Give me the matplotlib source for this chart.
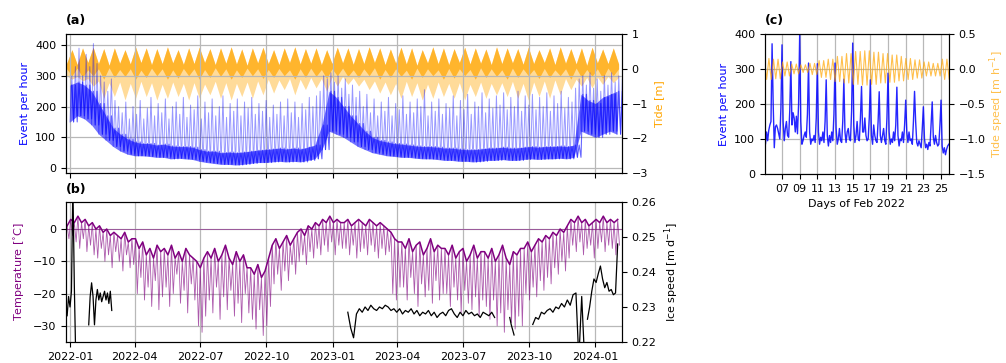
import numpy as np
import pandas as pd
import matplotlib
matplotlib.use("Agg")
import matplotlib.pyplot as plt
import matplotlib.dates as mdates

# ---------------- (a) seismic event rate, 10-day grid from 2022-01-01
EV_START = "2022-01-01"
# lower / upper edge of the dense band [events per hour]
ev_lo = [150, 170, 160, 140, 110, 90, 70, 55, 45, 40,
         40, 38, 35, 35, 30, 32, 30, 28, 22, 18,
         15, 12, 12, 10, 12, 15, 18, 18, 20, 22,
         20, 22, 20, 25, 30, 60, 120, 110, 100, 85,
         70, 60, 50, 45, 40, 38, 35, 35, 32, 30,
         30, 28, 25, 25, 22, 22, 20, 22, 25, 25,
         28, 25, 25, 28, 30, 28, 30, 30, 32, 30,
         35, 120, 110, 100, 110, 120, 110]
ev_hi = [270, 280, 270, 250, 210, 170, 130, 110, 95, 85,
         80, 80, 75, 78, 72, 70, 70, 68, 60, 55,
         55, 50, 52, 50, 52, 55, 58, 60, 62, 65,
         62, 65, 62, 68, 75, 140, 250, 230, 200, 170,
         145, 120, 100, 90, 85, 80, 78, 75, 72, 70,
         70, 68, 65, 65, 62, 60, 60, 62, 65, 65,
         68, 65, 65, 68, 70, 68, 70, 70, 72, 70,
         75, 240, 220, 210, 230, 240, 250]
# tops of the spikes, 5-day grid from 2022-01-01
ev_peak = [300, 330, 390, 300, 370, 330, 405, 340, 300, 280,
           250, 290, 220, 200, 180, 215, 160, 200, 175, 220,
           160, 195, 230, 170, 210, 180, 225, 160, 200, 215,
           175, 230, 165, 205, 190, 235, 160, 215, 180, 225,
           170, 200, 235, 165, 210, 185, 225, 170, 215, 195,
           230, 175, 210, 185, 220, 165, 205, 175, 215, 170,
           225, 180, 215, 165, 210, 190, 230, 200, 235, 250,
           300, 290, 310, 280, 300, 260, 290, 240, 270, 230,
           250, 200, 240, 180, 225, 170, 215, 185, 230, 170,
           210, 190, 235, 175, 215, 180, 225, 200, 255, 170,
           215, 185, 225, 175, 210, 195, 235, 170, 220, 190,
           240, 175, 215, 200, 245, 180, 225, 195, 235, 205,
           245, 190, 230, 200, 250, 185, 235, 205, 240, 190,
           230, 200, 245, 185, 235, 210, 250, 195, 230, 215,
           260, 290, 300, 270, 310, 260, 290, 250, 300, 270,
           310, 280, 300, 290]

# ---------------- (a) tide, alternating neap / spring every ~7.4 days
TIDE_START = "2021-12-27 06:00"
neap_hi = [0.15, 0.12, 0.18, 0.15, 0.10, 0.16, 0.14, 0.18, 0.12, 0.15,
           0.17, 0.13, 0.15, 0.18, 0.12, 0.16, 0.14, 0.10, 0.17, 0.15,
           0.12, 0.18, 0.14, 0.16, 0.12, 0.15, 0.17, 0.13, 0.15, 0.18,
           0.12, 0.16, 0.14, 0.10, 0.17, 0.15, 0.12, 0.18, 0.14, 0.16,
           0.12, 0.15, 0.17, 0.13, 0.15, 0.18, 0.12, 0.16, 0.14, 0.10,
           0.17, 0.15, 0.14]
neap_dark_lo = [0.0, 0.02, -0.03, 0.0, 0.03, -0.02, 0.0, -0.04, 0.02, 0.0,
                -0.03, 0.01, 0.0, -0.02, 0.03, 0.0, -0.03, 0.02, 0.0, -0.02,
                0.01, -0.03, 0.0, 0.02, -0.02, 0.0, 0.02, -0.03, 0.0, 0.03,
                -0.02, 0.0, -0.04, 0.02, 0.0, -0.03, 0.01, 0.0, -0.02, 0.03,
                0.0, -0.03, 0.02, 0.0, -0.02, 0.01, -0.03, 0.0, 0.02, -0.02,
                0.0, 0.02, 0.0]
neap_lo = [-0.2, -0.22, -0.28, -0.35, -0.4, -0.38, -0.42, -0.36, -0.4, -0.45,
           -0.38, -0.42, -0.4, -0.44, -0.36, -0.4, -0.42, -0.38, -0.35, -0.3,
           -0.32, -0.28, -0.3, -0.25, -0.28, -0.24, -0.22, -0.26, -0.3, -0.35,
           -0.38, -0.42, -0.36, -0.4, -0.44, -0.38, -0.42, -0.4, -0.45, -0.38,
           -0.42, -0.4, -0.36, -0.42, -0.38, -0.35, -0.32, -0.28, -0.3, -0.25,
           -0.24, -0.22, -0.25]
spring_hi = [0.55, 0.60, 0.62, 0.58, 0.60, 0.55, 0.62, 0.60, 0.58, 0.63,
             0.55, 0.60, 0.62, 0.58, 0.60, 0.63, 0.57, 0.60, 0.62, 0.55,
             0.60, 0.63, 0.58, 0.60, 0.55, 0.62, 0.60, 0.58, 0.63, 0.60,
             0.57, 0.62, 0.60, 0.55, 0.63, 0.60, 0.58, 0.62, 0.60, 0.57,
             0.63, 0.60, 0.58, 0.62, 0.55, 0.60, 0.63, 0.58, 0.60, 0.62,
             0.57, 0.60]
spring_dark_lo = [-0.2, -0.25, -0.2, -0.3, -0.25, -0.22, -0.3, -0.25, -0.2, -0.3,
                  -0.27, -0.2, -0.3, -0.25, -0.22, -0.3, -0.25, -0.2, -0.28, -0.25,
                  -0.2, -0.3, -0.25, -0.22, -0.28, -0.2,
                  -0.22, -0.25, -0.2, -0.3, -0.25, -0.22, -0.3, -0.25, -0.2, -0.3,
                  -0.27, -0.2, -0.3, -0.25, -0.22, -0.3, -0.25, -0.2, -0.28, -0.25,
                  -0.2, -0.3, -0.25, -0.22, -0.28, -0.2]
spring_lo = [-0.3, -0.35, -0.5, -0.85, -0.8, -0.9, -0.85,
             -0.8, -0.9, -0.85, -0.8, -0.9, -0.85,
             -0.75, -0.85, -0.9, -0.8, -0.85, -0.75,
             -0.7, -0.6, -0.75, -0.6, -0.55, -0.65, -0.5,
             -0.45, -0.5, -0.6, -0.7,
             -0.75, -0.85, -0.8, -0.9, -0.85, -0.8,
             -0.85, -0.9, -0.8, -0.85, -0.75, -0.8,
             -0.85, -0.9, -0.8, -0.85, -0.75,
             -0.6, -0.5, -0.55, -0.45, -0.4]

# ---------------- (b) air temperature, 5-day grid: warm / cold values
TEMP_START = "2021-12-28"
temp_hi = [1, 3, 2, 4, 2, 3, 1, 2,
           0, 1, -1, 0, -2, -1,
           -2, -3, -1, -4, -3,
           -3, -6, -4, -8, -6, -9, -5, -7,
           -6, -8, -5, -9, -7, -10, -6, -8, -9,
           -10, -12, -9,
           -7, -9, -6, -10, -8, -5, -9, -11, -7, -10, -8, -12,
           -12, -14, -11, -15, -13, -9,
           -5, -3, -6, -4, -2, -5, -3,
           -1, 0, -2, 1, 0, 2, 1,
           3, 2, 4, 2, 3, 2,
           2, 3, 1, 2, 3, 2, 1, 3, 2, 1, 2, 1, 0,
           -1, -3, -4,
           -4, -6, -3, -7, -5, -4, -8, -6, -3, -7, -5, -6,
           -6, -8, -5, -9, -7, -6, -10, -8, -5, -9, -7,
           -7, -9, -6, -10, -8, -5, -9, -11, -7, -8, -6,
           -6, -4, -7, -5, -3, -4,
           -2, -3, -1, -2, 0, -1, 1,
           3, 2, 4, 2, 3, 1, 2, 3, 2, 4, 2, 3, 2, 3]
temp_lo = [-3, -2, -4, -6, -3, -7, -5, -8,
           -9, -6, -10, -8, -12, -7,
           -10, -13, -8, -12, -11,
           -20, -15, -22, -18, -24, -16, -25, -21,
           -18, -24, -20, -14, -23, -19, -26, -17, -22,
           -30, -32, -27,
           -22, -26, -18, -28, -21, -25, -19, -27, -23, -29, -20, -26,
           -28, -31, -25, -33, -30, -24,
           -17, -14, -19, -13, -16, -11, -14,
           -10, -8, -11, -7, -9, -6, -8,
           -5, -7, -4, -8, -5, -6,
           -6, -8, -5, -9, -7, -6, -8, -5, -7, -9, -6, -8, -7,
           -20, -22, -18,
           -18, -22, -15, -20, -24, -17, -21, -19, -23, -16, -22, -20,
           -20, -24, -18, -22, -26, -19, -23, -25, -21, -27, -22,
           -24, -28, -22, -30, -26, -32, -25, -29, -31, -27, -30,
           -20, -22, -18, -21, -16, -19,
           -15, -17, -12, -14, -10, -13, -9,
           -5, -7, -4, -8, -6, -5, -9, -6, -4, -7, -5, -6, -8, -5]

# ---------------- (b) ice speed [m/d], separate pieces (start, step, values)
ice_pieces = [
    ("2021-12-28", "2D", [0.2275, 0.2330, 0.2300, 0.2345, 0.2650, 0.2360, 0.2150]),
    ("2022-01-27", "2D", [0.2249, 0.2330, 0.2369, 0.2330, 0.2249, 0.2320, 0.2350,
                          0.2320, 0.2340, 0.2315, 0.2330, 0.2345, 0.2320, 0.2340,
                          0.2310, 0.2345, 0.2290]),
    ("2023-01-22", "4D", [0.2285, 0.2240, 0.2212, 0.2280, 0.2295, 0.2285, 0.2300,
                          0.2290, 0.2305, 0.2295, 0.2290, 0.2300, 0.2295, 0.2305,
                          0.2300, 0.2290, 0.2295, 0.2285, 0.2295, 0.2280, 0.2290,
                          0.2285, 0.2295, 0.2280, 0.2290, 0.2275, 0.2285, 0.2280,
                          0.2290, 0.2275, 0.2285, 0.2270, 0.2280, 0.2285, 0.2275,
                          0.2290, 0.2295, 0.2280, 0.2270, 0.2285, 0.2275, 0.2290,
                          0.2280, 0.2285, 0.2275, 0.2280, 0.2270, 0.2285, 0.2280,
                          0.2275, 0.2285, 0.2270]),
    ("2023-09-04", "2D", [0.2270, 0.2250, 0.2235, 0.2220]),
    ("2023-10-06", "4D", [0.2250, 0.2270, 0.2265, 0.2285, 0.2280, 0.2290, 0.2295,
                          0.2285, 0.2300, 0.2295, 0.2310, 0.2300, 0.2320, 0.2305,
                          0.2335, 0.2340, 0.2150, 0.2330, 0.2150]),
    ("2023-12-21", "3D", [0.2265, 0.2300, 0.2345, 0.2380, 0.2370, 0.2395, 0.2417,
                          0.2380, 0.2355, 0.2370, 0.2345, 0.2350, 0.2335, 0.2340,
                          0.2480]),
]

# ---------------- (c) Feb 2022 zoom: events per hour, 3-hourly from Feb 5 00:00
C_START = "2022-02-05"
c_events = [110, 85, 120, 95, 125, 140, 150, 372,
            200, 75, 135, 140, 130, 115, 100, 190,
            369, 150, 95, 130, 150, 110, 105, 180,
            321, 140, 175, 160, 120, 165, 115, 200,
            400, 150, 85, 95, 110, 120, 105, 170,
            317, 120, 85, 100, 95, 110, 90, 160,
            315, 120, 85, 105, 95, 120, 90, 150,
            269, 110, 80, 110, 90, 120, 95, 170,
            317, 130, 85, 100, 130, 95, 90, 150,
            271, 120, 90, 120, 130, 100, 95, 180,
            374, 140, 90, 110, 150, 100, 95, 160,
            250, 120, 120, 160, 110, 95, 100, 160,
            269, 110, 85, 140, 110, 95, 90, 150,
            235, 110, 90, 110, 130, 95, 85, 160,
            288, 120, 85, 100, 90, 120, 95, 140,
            248, 110, 80, 100, 95, 120, 90, 140,
            211, 120, 90, 120, 95, 100, 85, 150,
            236, 150, 90, 80, 95, 85, 75, 130,
            192, 100, 75, 85, 70, 90, 80, 140,
            206, 105, 85, 110, 90, 80, 85, 140,
            211, 80, 60, 75, 55, 70, 80, 85]
# tide speed daily flood / ebb extremes [m/h], Feb 5 .. Feb 25
c_speed_hi = [0.15, 0.14, 0.10, 0.07, 0.06, 0.08, 0.12, 0.14, 0.18, 0.22, 0.25,
              0.26, 0.24, 0.22, 0.20, 0.18, 0.15, 0.13, 0.10, 0.08, 0.14]
c_speed_lo = [-0.15, -0.14, -0.10, -0.07, -0.05, -0.08, -0.12, -0.15, -0.18, -0.20, -0.22,
              -0.23, -0.22, -0.20, -0.19, -0.17, -0.15, -0.13, -0.10, -0.10, -0.15]


def zigzag(start, step, first, second):
    """Alternate first[k] at t_k and second[k] at t_k + step/2."""
    t = pd.date_range(start, periods=len(first), freq=step)
    half = pd.Timedelta(step) / 2
    x = np.empty(2 * len(first), dtype="datetime64[ns]")
    y = np.empty(2 * len(first))
    x[0::2] = t.values
    x[1::2] = (t + half).values
    y[0::2] = first
    y[1::2] = second
    return x, y


plt.rcParams["font.family"] = "DejaVu Sans"
plt.rcParams["font.size"] = 8

fig = plt.figure(figsize=(10.06, 3.63), dpi=100)
ax_a = fig.add_axes([0.0656, 0.5234, 0.5527, 0.3829])
ax_b = fig.add_axes([0.0656, 0.0579, 0.5527, 0.3857])
ax_c = fig.add_axes([0.7604, 0.5207, 0.1829, 0.3857])

xlim = (pd.Timestamp("2021-12-26 10:00"), pd.Timestamp("2024-02-07"))
grid_kw = dict(color="0.72", lw=0.9)

# ---- (a) tide on the twin axis, drawn underneath the events
tide_t = pd.date_range(TIDE_START, periods=len(neap_hi) + len(spring_hi), freq="177h")
n = len(tide_t)
tide_hi = np.empty(n); tide_dark = np.empty(n); tide_lo = np.empty(n)
tide_hi[0::2], tide_hi[1::2] = neap_hi, spring_hi
tide_dark[0::2], tide_dark[1::2] = neap_dark_lo, spring_dark_lo
tide_lo[0::2], tide_lo[1::2] = neap_lo, spring_lo
ax_a2 = ax_a.twinx()
ax_a2.fill_between(tide_t, tide_lo, tide_hi, color="orange", alpha=0.4, lw=0)
ax_a2.fill_between(tide_t, tide_dark, tide_hi, color="orange", alpha=0.7, lw=0)
ax_a2.set_ylim(-3, 1)
ax_a2.set_yticks([-3, -2, -1, 0, 1])
ax_a2.set_ylabel("Tide [m]", color="orange")
ax_a.set_zorder(ax_a2.get_zorder() + 1)
ax_a.patch.set_visible(False)

ev_t = pd.date_range(EV_START, periods=len(ev_lo), freq="10D")
ax_a.fill_between(ev_t, ev_lo, ev_hi, color="blue", alpha=0.55, lw=0)
lo_rep = np.repeat(ev_lo, 2)[:len(ev_peak)]
hi_rep = np.repeat(ev_hi, 2)[:len(ev_peak)]
bx, by = zigzag("2022-01-03 12:00", "5D", hi_rep, lo_rep)
ax_a.plot(bx, by, color="blue", lw=0.8, alpha=0.6)
sx, sy = zigzag(EV_START, "5D", lo_rep, ev_peak)
ax_a.plot(sx, sy, color="blue", lw=0.7, alpha=0.4)
ax_a.set_ylim(-16, 436)
ax_a.set_yticks([0, 100, 200, 300, 400])
ax_a.set_ylabel("Event per hour", color="blue")
ax_a.grid(True, **grid_kw)
ax_a.set_axisbelow(True)

# ---- (b)
tx, ty = zigzag(TEMP_START, "5D", temp_hi, temp_lo)
ax_b.plot(tx, ty, color="purple", lw=0.6, alpha=0.65)
ax_b.plot(pd.date_range(TEMP_START, periods=len(temp_hi), freq="5D"), temp_hi,
          color="purple", lw=1.1)
ax_b.axhline(0, color="purple", lw=0.6, alpha=0.6)
ax_b.set_ylim(-35, 8.4)
ax_b.set_yticks([-30, -20, -10, 0])
ax_b.set_ylabel("Temperature [$^{\\circ}$C]", color="purple")
ax_b.grid(True, **grid_kw)
ax_b.set_axisbelow(True)

ax_b2 = ax_b.twinx()
for start, step, vals in ice_pieces:
    t = pd.date_range(start, periods=len(vals), freq=step)
    ax_b2.plot(t, vals, color="black", lw=0.9)
ax_b2.set_ylim(0.22, 0.26)
ax_b2.set_yticks([0.22, 0.23, 0.24, 0.25, 0.26])
ax_b2.set_ylabel("Ice speed [m d$^{-1}$]")

for ax in (ax_a, ax_b):
    ax.set_xlim(*xlim)
    ax.xaxis.set_major_locator(mdates.MonthLocator(bymonth=[1, 4, 7, 10]))
    ax.xaxis.set_major_formatter(mdates.DateFormatter("%Y-%m"))
ax_a.tick_params(axis="x", labelbottom=False)

# ---- (c)
c_t = pd.date_range(C_START, periods=len(c_events), freq="3h")
ax_c.plot(c_t, c_events, color="blue", lw=1.0, alpha=0.85)
ax_c.set_ylim(0, 400)
ax_c.set_yticks([0, 100, 200, 300, 400])
ax_c.set_ylabel("Event per hour", color="blue")
ax_c.set_xlim(pd.Timestamp("2022-02-05 01:40"), pd.Timestamp("2022-02-25 21:30"))
ax_c.xaxis.set_major_locator(mdates.DayLocator(bymonthday=range(7, 26, 2)))
ax_c.xaxis.set_major_formatter(mdates.DateFormatter("%d"))
ax_c.set_xlabel("Days of Feb 2022")
ax_c.grid(True, **grid_kw)
ax_c.set_axisbelow(True)

sp_t = pd.date_range(C_START, periods=2 * len(c_speed_hi) * 2, freq="372min")
day_idx = np.minimum((sp_t - pd.Timestamp(C_START)).days, len(c_speed_hi) - 1)
sp_v = np.where(np.arange(len(sp_t)) % 2 == 0,
                np.array(c_speed_hi)[day_idx], np.array(c_speed_lo)[day_idx])
ax_c2 = ax_c.twinx()
ax_c2.plot(sp_t, sp_v, color="orange", lw=0.8, alpha=0.7)
ax_c2.set_ylim(-1.5, 0.5)
ax_c2.set_yticks([-1.5, -1.0, -0.5, 0.0, 0.5])
ax_c2.set_ylabel("Tide speed [m h$^{-1}$]", color="orange", alpha=0.7, labelpad=1)

fig.text(0.0656, 0.935, "(a)", fontweight="bold", fontsize=9)
fig.text(0.0656, 0.468, "(b)", fontweight="bold", fontsize=9)
fig.text(0.7604, 0.935, "(c)", fontweight="bold", fontsize=9)

fig.savefig("out.png", dpi=100)
